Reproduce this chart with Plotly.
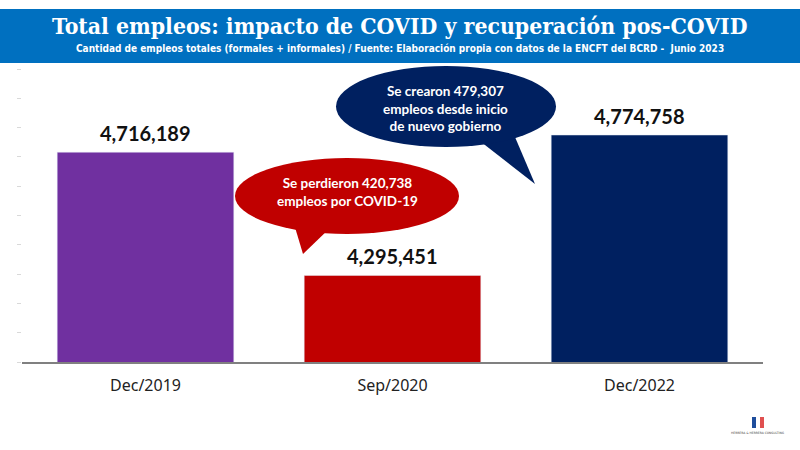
import plotly.graph_objects as go

periodos = ["Dec/2019", "Sep/2020", "Dec/2022"]
empleos = [4716189, 4295451, 4774758]
colores = ["#7030A0", "#C00000", "#002060"]

titulo = "Total empleos: impacto de COVID y recuperación pos-COVID"
subtitulo = ("Cantidad de empleos totales (formales + informales) / Fuente: "
             "Elaboración propia con datos de la ENCFT del BCRD -  Junio 2023")
nota_covid = "Se perdieron 420,738<br>empleos por COVID-19"
nota_gobierno = "Se crearon 479,307<br>empleos desde inicio<br>de nuevo gobierno"

W, H = 800, 450
L, R, T, B = 22, 37, 69, 88
pw, ph = W - L - R, H - T - B


# pixel -> paper helpers, for the decorations
def px(x):
    return (x - L) / pw


def py(y):
    return (H - B - y) / ph


def tri(pts):
    return "M " + " L ".join(f"{px(a)},{py(b)}" for a, b in pts) + " Z"


def nota(text, x, y, size, **kw):
    return dict(text=text, x=px(x), y=py(y), xref="paper", yref="paper",
                xanchor="center", yanchor="middle", showarrow=False,
                font=dict(size=size, **kw))


fig = go.Figure(go.Bar(
    x=periodos, y=empleos, marker_color=colores, width=0.715,
    hoverinfo="x+y",
))

shapes = [
    # title band
    dict(type="rect", xref="paper", yref="paper", x0=px(0), x1=px(W), y0=py(63), y1=py(9),
         fillcolor="#0070C0", line_width=0, layer="below"),
    # red bubble
    dict(type="path", xref="paper", yref="paper", path=tri([(294, 224), (330, 228), (303, 254)]),
         fillcolor="#C00000", line_width=0),
    dict(type="circle", xref="paper", yref="paper", x0=px(235), x1=px(459), y0=py(234), y1=py(158),
         fillcolor="#C00000", line_width=0),
    # navy bubble
    dict(type="path", xref="paper", yref="paper", path=tri([(476, 138), (512, 130), (535, 184)]),
         fillcolor="#002060", line_width=0),
    dict(type="circle", xref="paper", yref="paper", x0=px(336), x1=px(556), y0=py(147), y1=py(66),
         fillcolor="#002060", line_width=0),
    # logo
    dict(type="rect", xref="paper", yref="paper", x0=px(752), x1=px(756), y0=py(428), y1=py(417),
         fillcolor="#1F4E9C", line_width=0),
    dict(type="rect", xref="paper", yref="paper", x0=px(760), x1=px(764), y0=py(428), y1=py(417),
         fillcolor="#E05050", line_width=0),
]

annotations = [
    nota(f"<b>{titulo}</b>", 400, 26, 22.8, family="DejaVu Serif Condensed", color="white"),
    nota(f"<b>{subtitulo}</b>", 400, 48, 10,
         family="Liberation Sans Narrow, DejaVu Sans Condensed", color="white"),
    nota(f"<b>{nota_covid}</b>", 347, 192, 13.5, family="Lato", color="white"),
    nota(f"<b>{nota_gobierno}</b>", 446, 108, 13.5, family="Lato", color="white"),
    nota("HERRERA & HERRERA CONSULTING", 758, 433, 3, family="DejaVu Sans", color="#444444"),
]

# value labels above each bar
for p, v in zip(periodos, empleos):
    annotations.append(dict(x=p, y=v, text=f"<b>{v:,}</b>", showarrow=False,
                            yanchor="bottom", yshift=5,
                            font=dict(family="Lato", size=20, color="#111111")))

fig.update_layout(
    width=W, height=H, margin=dict(l=L, r=R, t=T, b=B),
    paper_bgcolor="white", plot_bgcolor="white",
    showlegend=False, bargap=0.285,
    shapes=shapes, annotations=annotations,
    xaxis=dict(showline=True, linecolor="#808080", linewidth=2, ticks="",
               ticklabelstandoff=8,
               tickfont=dict(family="Noto Sans", size=16, color="#222222")),
    yaxis=dict(range=[4000000, 5000000], dtick=100000, showgrid=False, zeroline=False,
               ticks="outside", ticklen=4, tickcolor="#d9d9d9", showticklabels=False),
)

fig.write_html("out.html", config={"displayModeBar": False},
               post_script="document.body.style.margin='0';")
